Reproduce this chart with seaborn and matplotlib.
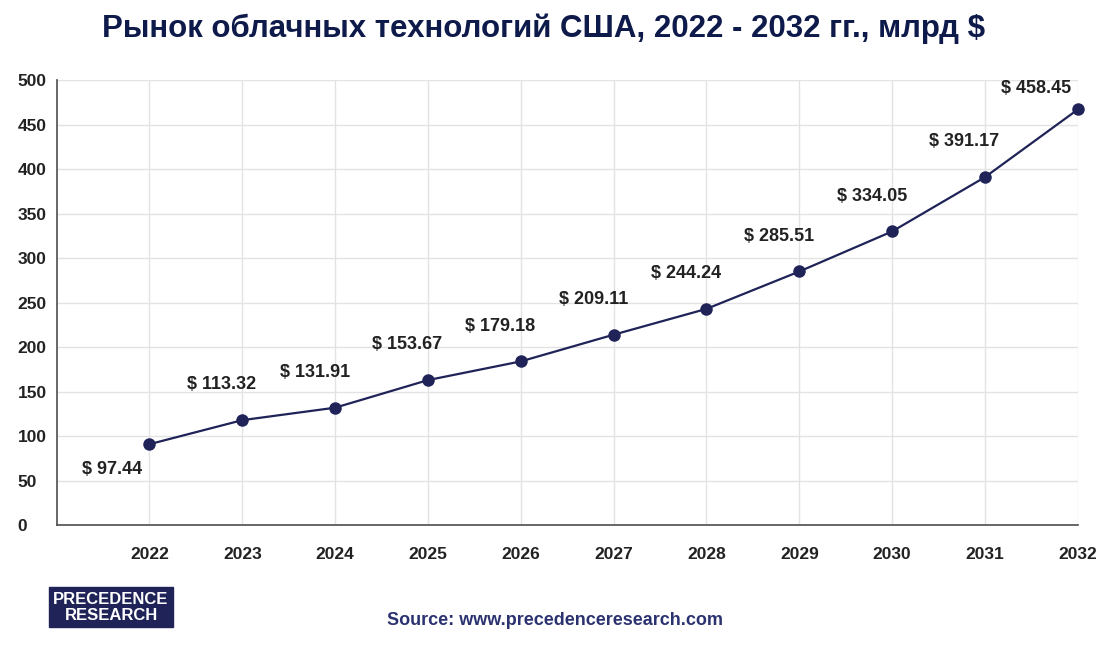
import matplotlib
matplotlib.use("Agg")
import matplotlib.pyplot as plt
import seaborn as sns
import pandas as pd

years = [2022, 2023, 2024, 2025, 2026, 2027, 2028, 2029, 2030, 2031, 2032]
plotted = [91, 118, 132, 163, 184, 214, 243, 285, 330, 391, 467]
labels = ["$ 97.44", "$ 113.32", "$ 131.91", "$ 153.67", "$ 179.18", "$ 209.11",
          "$ 244.24", "$ 285.51", "$ 334.05", "$ 391.17", "$ 458.45"]

sns.set_theme(style="whitegrid")
plt.rcParams['font.family'] = ['Liberation Sans', 'DejaVu Sans']
navy = "#1f2357"

fig = plt.figure(figsize=(11.1, 6.46), dpi=100)
ax = fig.add_axes([0.051, 0.187, 0.92, 0.689])
df = pd.DataFrame({"year": years, "v": plotted})
sns.lineplot(data=df, x="year", y="v", ax=ax, color=navy, lw=1.6, marker="o",
             markersize=9, markeredgewidth=0, clip_on=False)
ax.set_xlim(2021, 2032)
ax.set_ylim(0, 500)
ax.set_xticks(years)
ax.set_xticklabels([str(y) for y in years])
ax.set_yticks(range(0, 501, 50))
ax.tick_params(axis='both', labelsize=12.5, colors="#222222", pad=10)
for t in ax.get_xticklabels() + ax.get_yticklabels():
    t.set_fontweight("bold")
ax.yaxis.set_tick_params(pad=22)
for t in ax.get_yticklabels():
    t.set_horizontalalignment("left")
ax.grid(True, color="#e3e3e3", lw=1)
for s in ["top", "right"]:
    ax.spines[s].set_visible(False)
ax.spines["left"].set_color("#555555")
ax.spines["bottom"].set_color("#555555")
ax.set_xlabel("")
ax.set_ylabel("")
for i, (x, y, l) in enumerate(zip(years, plotted, labels)):
    if i == 0:
        ax.text(x - 0.4, y - 28, l, ha="center", va="center",
                fontsize=13, fontweight="bold", color="#222222", clip_on=False)
    else:
        dx = -0.45 if i == 10 else -0.22
        dy = 14 if i == 10 else 30
        ax.text(x + dx, y + dy, l, ha="center", va="bottom",
                fontsize=13, fontweight="bold", color="#222222", clip_on=False)

fig.text(0.49, 0.955, "Рынок облачных технологий США, 2022 - 2032 гг., млрд $",
         ha="center", va="center", fontsize=22.5, fontweight="bold", color="#0d1a4a")
fig.text(0.10, 0.06, "PRECEDENCE\nRESEARCH", ha="center", va="center", fontsize=12,
         fontweight="bold", color="white", linespacing=1.1,
         bbox=dict(boxstyle="square,pad=0.25", fc=navy, ec=navy))
fig.text(0.5, 0.04, "Source: www.precedenceresearch.com", ha="center", va="center",
         fontsize=13, fontweight="bold", color="#2b3270")
fig.savefig("out.png", dpi=100)
